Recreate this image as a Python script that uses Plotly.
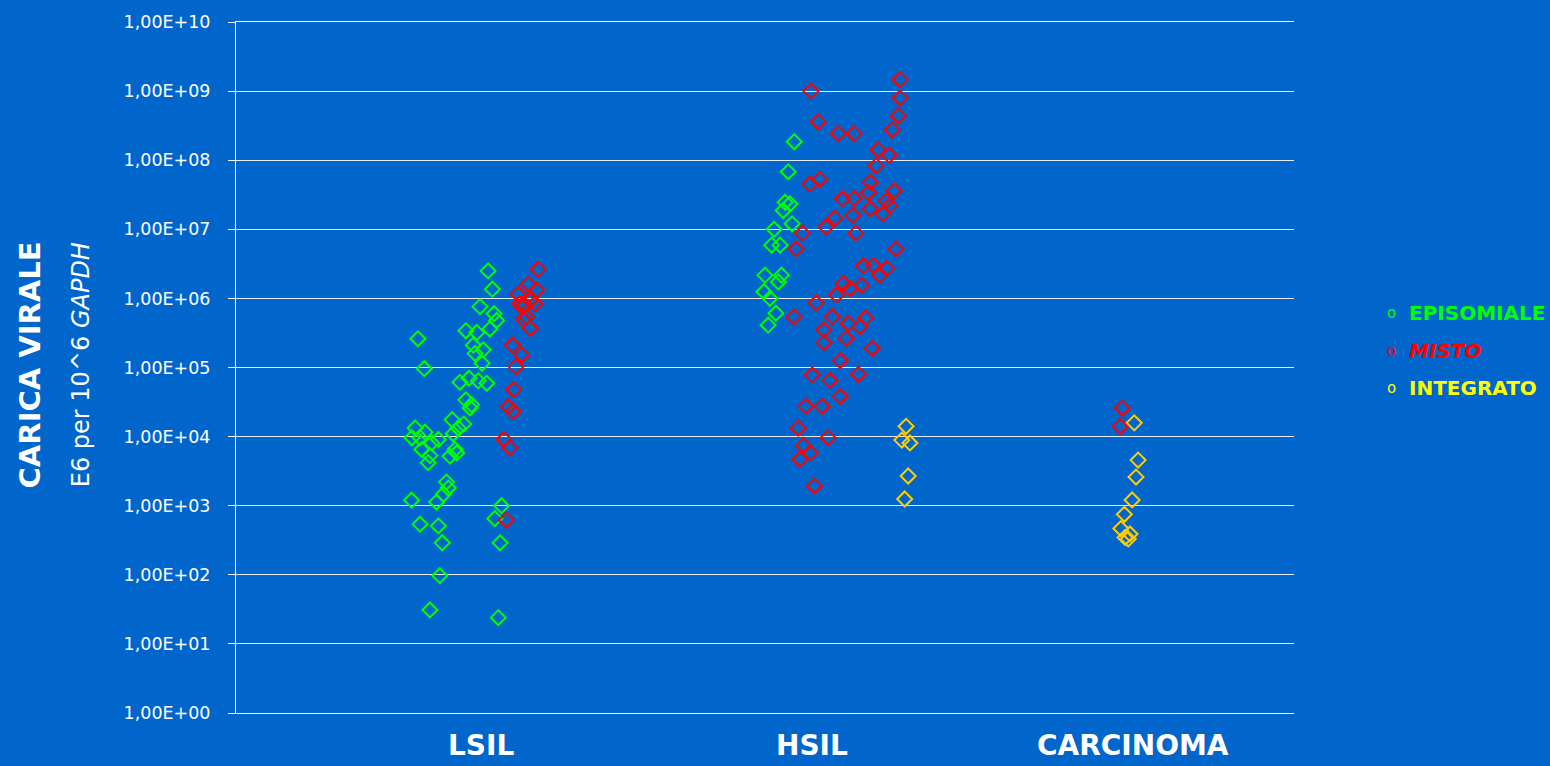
import plotly.graph_objects as go

# ---------------- data ----------------
categories = ["LSIL", "HSIL", "CARCINOMA"]
category_pos = [0.695, 1.633, 2.543]

series_names = ["EPISOMIALE", "MISTO", "INTEGRATO"]

# LSIL - episomiale (green)
lsil_epi_x = [0.715, 0.727, 0.692, 0.732, 0.739, 0.720, 0.652, 0.683, 0.516, 0.673,
              0.701, 0.678, 0.698, 0.534, 0.661, 0.687, 0.635, 0.711, 0.652, 0.668,
              0.664, 0.613, 0.646, 0.630, 0.508, 0.616, 0.536, 0.499, 0.522, 0.574,
              0.555, 0.527, 0.621, 0.550, 0.607, 0.626, 0.545, 0.597, 0.602, 0.588,
              0.498, 0.569, 0.522, 0.574, 0.585, 0.578, 0.550, 0.753, 0.734, 0.749,
              0.744]
lsil_epi_y = [2.5e6, 1.36e6, 7.6e5, 6.0e5, 4.8e5, 3.6e5, 3.4e5, 3.2e5, 2.6e5, 2.1e5,
              1.8e5, 1.6e5, 1.15e5, 9.6e4, 7.0e4, 6.4e4, 6.1e4, 5.9e4, 3.4e4, 2.9e4,
              2.6e4, 1.76e4, 1.52e4, 1.33e4, 1.33e4, 1.1e4, 1.16e4, 9.6e3, 9.6e3, 9.1e3,
              8.1e3, 6.5e3, 6.5e3, 5.3e3, 5.2e3, 5.8e3, 4.2e3, 2.2e3, 1.8e3, 1.46e3,
              1.2e3, 1.13e3, 5.4e2, 5.1e2, 2.9e2, 9.7e1, 3.1e1, 1.0e3, 6.5e2, 2.9e2,
              2.4e1]

# LSIL - misto (red)
lsil_mix_x = [0.857, 0.829, 0.853, 0.800, 0.834, 0.805, 0.848, 0.819, 0.810, 0.824,
              0.815, 0.834, 0.784, 0.810, 0.794, 0.788, 0.772, 0.786, 0.760, 0.777,
              0.766]
lsil_mix_y = [2.64e6, 1.61e6, 1.32e6, 1.15e6, 9.4e5, 8.4e5, 8.4e5, 8.0e5, 7.6e5, 5.4e5,
              4.9e5, 3.7e5, 2.1e5, 1.52e5, 1.03e5, 4.8e4, 2.7e4, 2.3e4, 9.1e3, 6.9e3,
              6.2e2]

# HSIL - episomiale (green)
hsil_epi_x = [1.583, 1.566, 1.557, 1.571, 1.552, 1.577, 1.526, 1.519, 1.543, 1.500,
              1.547, 1.538, 1.497, 1.514, 1.531, 1.509]
hsil_epi_y = [1.85e8, 6.8e7, 2.46e7, 2.33e7, 1.87e7, 1.2e7, 1.0e7, 5.9e6, 5.9e6, 2.17e6,
              2.17e6, 1.73e6, 1.25e6, 1.0e6, 6.1e5, 4.1e5]

# HSIL - misto (red)
hsil_mix_x = [1.630, 1.651, 1.708, 1.753, 1.883, 1.883, 1.878, 1.861, 1.821, 1.852,
              1.815, 1.627, 1.655, 1.798, 1.793, 1.866, 1.720, 1.752, 1.798, 1.843,
              1.854, 1.835, 1.749, 1.698, 1.673, 1.758, 1.606, 1.588, 1.871, 1.779,
              1.807, 1.845, 1.826, 1.722, 1.741, 1.774, 1.703, 1.645, 1.582, 1.691,
              1.786, 1.667, 1.736, 1.769, 1.667, 1.730, 1.804, 1.713, 1.634, 1.684,
              1.765, 1.713, 1.616, 1.662, 1.594, 1.679, 1.609, 1.628, 1.599, 1.640]
hsil_mix_y = [1.0e9, 3.6e8, 2.43e8, 2.43e8, 1.47e9, 8.0e8, 4.4e8, 2.75e8, 1.42e8, 1.18e8,
              8.3e7, 4.5e7, 5.3e7, 4.8e7, 3.4e7, 3.6e7, 2.75e7, 2.8e7, 1.97e7, 2.6e7,
              2.2e7, 1.67e7, 1.59e7, 1.45e7, 1.08e7, 8.8e6, 8.8e6, 5.2e6, 5.2e6, 2.95e6,
              3.0e6, 2.7e6, 2.17e6, 1.64e6, 1.39e6, 1.55e6, 1.12e6, 8.6e5, 5.4e5, 5.4e5,
              5.25e5, 3.5e5, 4.35e5, 3.9e5, 2.29e5, 2.64e5, 1.9e5, 1.26e5, 7.8e4, 6.5e4,
              8.0e4, 3.8e4, 2.74e4, 2.74e4, 1.33e4, 9.6e3, 7.5e3, 5.8e3, 4.7e3, 1.93e3]

# HSIL - integrato (yellow)
hsil_int_x = [1.900, 1.888, 1.911, 1.906, 1.896]
hsil_int_y = [1.41e4, 8.9e3, 8.1e3, 2.69e3, 1.25e3]

# CARCINOMA - misto (red)
carc_mix_x = [2.513, 2.507]
carc_mix_y = [2.59e4, 1.41e4]

# CARCINOMA - integrato (yellow)
carc_int_x = [2.547, 2.558, 2.552, 2.541, 2.519, 2.509, 2.535, 2.521, 2.530]
carc_int_y = [1.58e4, 4.57e3, 2.6e3, 1.21e3, 7.5e2, 4.67e2, 3.9e2, 3.47e2, 3.3e2]

tick_vals = [1e0, 1e1, 1e2, 1e3, 1e4, 1e5, 1e6, 1e7, 1e8, 1e9, 1e10]
tick_text = ["1,00E+00", "1,00E+01", "1,00E+02", "1,00E+03", "1,00E+04", "1,00E+05",
             "1,00E+06", "1,00E+07", "1,00E+08", "1,00E+09", "1,00E+10"]

# ---------------- styles ----------------
BG = "#0066CC"
GREEN = "#00FF00"
RED = "#FF0000"
GOLD = "#FFCC00"
YELLOW = "#FFFF00"

fig = go.Figure()

def add(xs, ys, color, name):
    fig.add_trace(go.Scatter(
        x=xs, y=ys, mode="markers", name=name, showlegend=False,
        marker=dict(symbol="diamond-open", size=11.5, color=color,
                    line=dict(color=color, width=2)),
    ))

add(lsil_epi_x, lsil_epi_y, GREEN, series_names[0])
add(lsil_mix_x, lsil_mix_y, RED, series_names[1])
add(hsil_epi_x, hsil_epi_y, GREEN, series_names[0])
add(hsil_mix_x, hsil_mix_y, RED, series_names[1])
add(hsil_int_x, hsil_int_y, GOLD, series_names[2])
add(carc_mix_x, carc_mix_y, RED, series_names[1])
add(carc_int_x, carc_int_y, GOLD, series_names[2])

annotations = []
# category labels
for c, p in zip(categories, category_pos):
    annotations.append(dict(
        x=p, y=-0.0735, xref="x", yref="paper", text="<b>" + c + "</b>",
        showarrow=False, xanchor="center", yanchor="bottom",
        font=dict(family="DejaVu Sans", size=28, color="white"),
    ))

# legend (as text)
legend_colors = [GREEN, RED, YELLOW]
legend_labels = ["<b>EPISOMIALE</b>", "<b><i>MISTO</i></b>", "<b>INTEGRATO</b>"]
legend_y = [0.579, 0.524, 0.470]
for lab, col, ly in zip(legend_labels, legend_colors, legend_y):
    annotations.append(dict(
        x=1.092, y=ly, xref="paper", yref="paper", text="o",
        showarrow=False, xanchor="center", yanchor="middle",
        font=dict(family="DejaVu Sans", size=15, color=col),
    ))
    annotations.append(dict(
        x=1.107, y=ly, xref="paper", yref="paper", text=lab,
        showarrow=False, xanchor="left", yanchor="middle",
        font=dict(family="DejaVu Sans", size=20, color=col),
    ))

# y-axis titles
annotations.append(dict(
    x=-0.195, y=0.504, xref="paper", yref="paper", text="<b>CARICA VIRALE</b>",
    showarrow=False, textangle=-90, xanchor="center", yanchor="middle",
    font=dict(family="DejaVu Sans", size=29, color="white"),
))
annotations.append(dict(
    x=-0.147, y=0.504, xref="paper", yref="paper", text="E6 per 10^6 <i>GAPDH</i>",
    showarrow=False, textangle=-90, xanchor="center", yanchor="middle",
    font=dict(family="DejaVu Sans", size=24, color="white"),
))

fig.update_layout(
    width=1550, height=766,
    paper_bgcolor=BG, plot_bgcolor=BG,
    margin=dict(l=236, r=256, t=19, b=53),
    showlegend=False,
    annotations=annotations,
    xaxis=dict(range=[0, 3], showgrid=False, zeroline=False, showticklabels=False,
               ticks="", showline=True, mirror=True, linecolor="white", linewidth=1),
    yaxis=dict(type="log", range=[0, 10], tickvals=tick_vals, ticktext=tick_text,
               showgrid=True, gridcolor="#E8EEF8", gridwidth=1, zeroline=False,
               showline=True, linecolor="white", linewidth=1,
               ticks="outside", ticklen=7, tickcolor="white", tickwidth=1,
               tickfont=dict(family="DejaVu Sans", size=17.5, color="white"),
               ticklabelstandoff=14),
)

fig.write_html(
    "out.html",
    config={"displayModeBar": False},
    post_script="document.body.style.margin='0';document.body.style.overflow='hidden';"
                "document.body.style.background='#0066CC';",
)
